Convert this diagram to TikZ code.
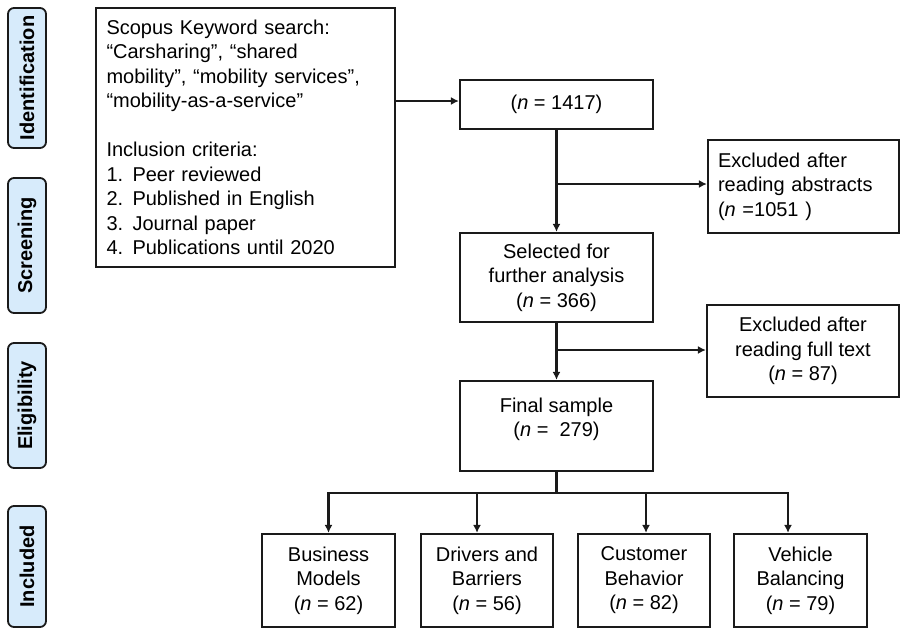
\documentclass[tikz,border=0pt]{standalone}
\usepackage{fontspec}
\setmainfont{Liberation Sans}
\usetikzlibrary{arrows.meta}
\definecolor{labfill}{HTML}{D7EBFB}
\definecolor{ink}{HTML}{1A1A1A}
\begin{document}
\begin{tikzpicture}[x=1pt,y=-1pt,
  font=\fontsize{20}{24.5}\selectfont,
  box/.style={draw=ink, line width=2.2pt, inner sep=2pt, align=center},
  lab/.style={draw=ink, line width=1.8pt, fill=labfill, rounded corners=6pt,
    minimum height=38pt, inner sep=0pt, rotate=90, font=\fontsize{20}{24}\selectfont\bfseries},
  conn/.style={draw=ink, line width=2.2pt},
  arr/.style={conn, -{Latex[length=8pt,width=8pt]}}]
\useasboundingbox (0,0) rectangle (900,629);

% phase labels
\node[lab, minimum width=140pt] (lid) at (27,78) {Identification};
\node[lab, minimum width=135pt] (lsc) at (27,245.5) {Screening};
\node[lab, minimum width=125pt] (lel) at (27,405.5) {Eligibility};
\node[lab, minimum width=121pt] (lin) at (27,566.5) {Included};

% boxes
\node[box, align=left, text width=278pt, inner xsep=10.5pt, minimum height=259pt] (src) at (245.5,137.5)
 {Scopus Keyword search:\\
  “Carsharing”, “shared\\
  mobility”, “mobility services”,\\
  “mobility-as-a-service”\\[24.5pt]
  Inclusion criteria:\\
  \makebox[26pt][l]{1.}Peer reviewed\\
  \makebox[26pt][l]{2.}Published in English\\
  \makebox[26pt][l]{3.}Journal paper\\
  \makebox[26pt][l]{4.}Publications until 2020};

\node[box, minimum width=193pt, minimum height=49pt] (idn) at (556.5,104.5) {(\textit{n} = 1417)};
\node[box, minimum width=193pt, minimum height=89pt] (sel) at (556.5,277.5)
 {Selected for\\ further analysis\\ (\textit{n} = 366)};
\node[box, minimum width=193pt, minimum height=90pt] (fin) at (556.5,426)
 {Final sample\\ (\textit{n} =\ \ 279)\\[-14pt] \strut};
\node[box, align=left, text width=171pt, inner xsep=10pt, minimum height=93pt] (ex1) at (803.5,186.5)
 {Excluded after\\ reading abstracts\\ (\textit{n} =1051 )};
\node[box, minimum width=192pt, minimum height=92pt] (ex2) at (803,351)
 {Excluded after\\ reading full text\\ (\textit{n} = 87)};

\node[box, minimum width=133pt, minimum height=93pt] (b1) at (328.5,580.5)
 {Business\\ Models\\ (\textit{n} = 62)};
\node[box, minimum width=132pt, minimum height=93pt] (b2) at (487,580.5)
 {Drivers and\\ Barriers\\ (\textit{n} = 56)};
\node[box, minimum width=132pt, minimum height=93pt] (b3) at (644,580.5)
 {Customer\\ Behavior\\ (\textit{n} = 82)};
\node[box, minimum width=133pt, minimum height=93pt] (b4) at (800.5,580.5)
 {Vehicle\\ Balancing\\ (\textit{n} = 79)};

% connectors
\coordinate (j1) at (src.east |- 0,101);
\draw[arr] (j1) -- (idn.west |- j1);
\draw[arr] (idn.south) -- (sel.north);
\draw[arr] (idn.south |- 0,184) -- (ex1.west |- 0,184);
\draw[arr] (sel.south) -- (fin.north);
\draw[arr] (sel.south |- 0,350) -- (ex2.west |- 0,350);
\coordinate (j2) at (fin.south |- 0,493);
\draw[conn] (fin.south) -- (j2);
\coordinate (k1) at (b1.north |- 0,493);
\coordinate (k2) at (477,493);
\coordinate (k3) at (646,493);
\coordinate (k4) at (788,493);
\draw[conn, line cap=rect] (k1) -- (k4);
\draw[arr] (k1) -- (b1.north);
\draw[arr] (k2) -- (b2.north -| k2);
\draw[arr] (k3) -- (b3.north -| k3);
\draw[arr] (k4) -- (b4.north -| k4);
\end{tikzpicture}
\end{document}
